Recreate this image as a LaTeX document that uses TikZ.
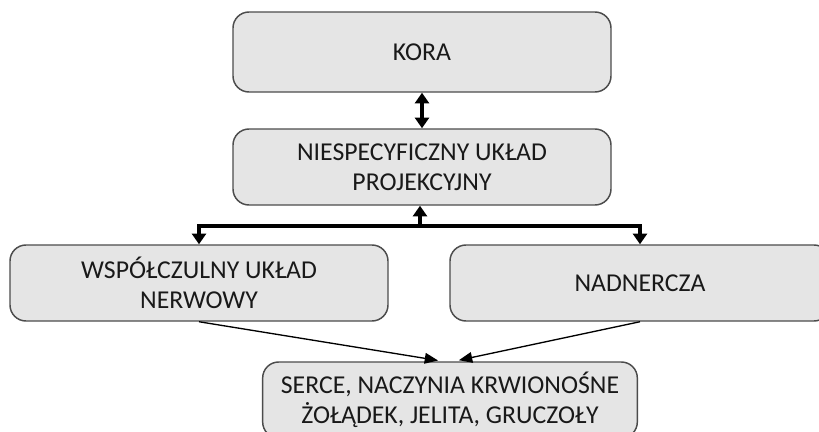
\documentclass[tikz,border=0pt]{standalone}
\usepackage{fontspec}
\setmainfont{Carlito}
\usetikzlibrary{arrows.meta, positioning, calc}

\begin{document}
\begin{tikzpicture}[
    x=0.75pt, y=-0.75pt,
    every node/.style={align=center, font=\fontsize{19.3}{22.5}\selectfont, text=black!90},
    box/.style={draw=black!70, line width=1.1pt, fill=black!10, rounded corners=12pt,
        minimum width=283.5pt, minimum height=57pt, inner sep=0pt},
    fat/.style={line width=3pt, line join=miter, -{Triangle[width=10.5pt, length=8pt]}},
    thin/.style={line width=1pt, -{Triangle[width=8pt, length=10pt]}, shorten >=3.75pt}
]
\useasboundingbox (0,0) rectangle (819,432);
\clip (0,0) rectangle (819,432);
\fill[white] (0,0) rectangle (819,432);

\node (kora)  at (422, 52)  [box, minimum height=60pt] {KORA};
\node (proj)  at (422, 167) [box] {NIESPECYFICZNY UKŁAD\\PROJEKCYJNY};
\node (wsp)   at (199, 283) [box] {WSPÓŁCZULNY UKŁAD\\NERWOWY};
\node (nadn)  at (640, 283) [box, minimum width=285pt] {NADNERCZA};
\node (serce) at (450, 400) [box, minimum width=281pt] {SERCE, NACZYNIA KRWIONOŚNE\\ŻOŁĄDEK, JELITA, GRUCZOŁY};

\coordinate (split) at (420, 226);

\draw[fat, {Triangle[width=10.5pt, length=8pt]}-{Triangle[width=10.5pt, length=8pt]}]
    (kora.south) -- (proj.north);
\draw[fat] (split) -- (split |- proj.south);
\draw[fat, {Triangle[width=10.5pt, length=8pt]}-{Triangle[width=10.5pt, length=8pt]}]
    (wsp.north) -- (wsp.north |- split) -- (nadn.north |- split) -- (nadn.north);
\draw[thin] (wsp.south) -- ([xshift=-5.25pt]serce.north);
\draw[thin] (nadn.south) -- ([xshift=3pt]serce.north);
\end{tikzpicture}
\end{document}
